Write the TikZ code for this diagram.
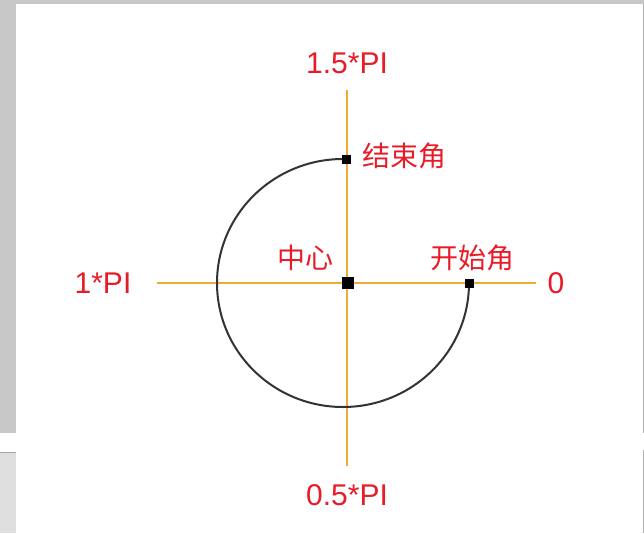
\documentclass[tikz,border=0pt]{standalone}
\usepackage{fontspec}
\setmainfont{Liberation Sans}
\newfontfamily\cjk{Noto Sans CJK SC}
\definecolor{lblred}{RGB}{232,28,40}
\definecolor{axisor}{RGB}{240,172,48}
\definecolor{bggray}{RGB}{200,200,200}
\definecolor{boxgray}{RGB}{222,222,222}
\begin{document}
\begin{tikzpicture}[x=1pt,y=-1pt,
  lbl/.style={text=lblred,font=\fontsize{30}{30}\selectfont,inner sep=0pt},
  cjklbl/.style={text=lblred,font=\cjk\fontsize{28}{28}\selectfont,inner sep=0pt},
  sq/.style={fill=black,minimum size=9pt,inner sep=0pt},
  axisline/.style={draw=axisor,line width=2.2pt},
  arcline/.style={draw=black!80,line width=2pt}]
\useasboundingbox (0,0) rectangle (644,533);
\fill[white] (0,0) rectangle (644,533);
% frame / background
\fill[bggray] (0,0) rectangle (644,4);
\fill[bggray] (0,0) rectangle (16,433);
\fill[boxgray] (0,452) rectangle (16,533);
\draw[gray!70,line width=1pt] (0,452) -- (16,452);
\draw[gray!60,line width=0.8pt] (643,4) -- (643,433);
\draw[gray!60,line width=0.8pt] (643,450) -- (643,533);
% axes
\coordinate (t) at (347,90);
\coordinate (b) at (347,466);
\coordinate (l) at (157,283);
\coordinate (r) at (536,283);
\draw[axisline] (t) -- (b);
\draw[axisline] (l) -- (r);
% arc
\node[sq] (s) at (469,283) {};
\node[sq] (e) at (346,159) {};
\draw[arcline] (s.center) arc[start angle=0,end angle=270,x radius=126,y radius=124] -- (e.center);
\node[sq] at (e) {};
\node[sq] at (s) {};
\node[sq,minimum size=12pt] (c) at (347.5,283) {};
% labels
\node[lbl] (l15) at (347,63) {1.5*PI};
\node[lbl] (l05) at (347,495) {0.5*PI};
\node[lbl] (l1) at (103,283) {1*PI};
\node[lbl] (l0) at (556,283) {0};
\node[cjklbl] (lend) at (404,156) {结束角};
\node[cjklbl] (lc) at (305,258) {中心};
\node[cjklbl] (lstart) at (472,258) {开始角};
\end{tikzpicture}
\end{document}
